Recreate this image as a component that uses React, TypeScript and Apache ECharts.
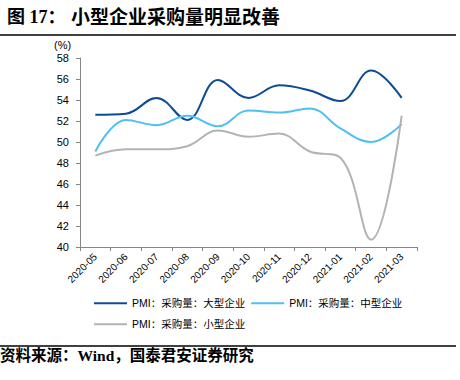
import React, { useEffect, useRef } from "react";
import * as echarts from "echarts";

const categories = ["2020-05", "2020-06", "2020-07", "2020-08", "2020-09", "2020-10", "2020-11", "2020-12", "2021-01", "2021-02", "2021-03"];
const largeValues = [52.6, 52.7, 54.2, 52.1, 55.9, 54.2, 55.4, 54.9, 53.9, 56.8, 54.2];
const mediumValues = [49.1, 52.1, 51.6, 52.5, 51.5, 53.0, 52.8, 53.2, 51.3, 50.0, 51.7];
const smallValues = [48.7, 49.3, 49.3, 49.6, 51.1, 50.5, 50.8, 49.1, 48.5, 40.7, 52.5];
const seriesNames = ["PMI：采购量：大型企业", "PMI：采购量：中型企业", "PMI：采购量：小型企业"];
const titleLead = "图 17：";
const titleText = "小型企业采购量明显改善";
const sourceText = "资料来源：Wind，国泰君安证券研究";
const unitText = "(%)";

const colors = ["#0C4C95", "#4EC1F2", "#B3B3B3"];

export default function App() {
  const ref = useRef<HTMLDivElement>(null);
  useEffect(() => {
    if (!ref.current) return;
    const chart = echarts.init(ref.current, null, { renderer: "svg" });
    const serif = '"Liberation Serif", "Noto Sans CJK SC", serif';
    const sans = '"Liberation Sans", Arial, "Noto Sans CJK SC", sans-serif';
    const mk = (name: string, data: number[], color: string) => ({
      name,
      type: "line",
      data,
      smooth: 0.4,
      symbol: "none",
      lineStyle: { width: 2, color },
      itemStyle: { color },
    });
    chart.setOption({
      animation: false,
      backgroundColor: "#fff",
      grid: { left: 80, right: 43, top: 58, bottom: 133, containLabel: false },
      xAxis: {
        type: "category",
        data: categories,
        boundaryGap: true,
        axisLine: { lineStyle: { color: "#868686", width: 1 } },
        axisTick: { show: true, length: 4, inside: false, alignWithLabel: false, lineStyle: { color: "#868686" } },
        axisLabel: { rotate: 45, fontSize: 10, color: "#000", fontFamily: sans, margin: 8, interval: 0 },
        splitLine: { show: false },
      },
      yAxis: {
        type: "value",
        min: 40,
        max: 58,
        interval: 2,
        axisLine: { show: true, lineStyle: { color: "#868686", width: 1 } },
        axisTick: { show: true, length: 4, lineStyle: { color: "#868686" } },
        axisLabel: { fontSize: 11, color: "#000", fontFamily: sans, margin: 11 },
        splitLine: { show: false },
      },
      legend: [
        {
          data: [seriesNames[0], seriesNames[1]],
          left: 89,
          top: 293,
          orient: "horizontal",
          icon: "rect",
          itemWidth: 33,
          itemHeight: 2,
          itemGap: 6,
          textStyle: { fontSize: 10.5, color: "#000", fontFamily: sans },
        },
        {
          data: [seriesNames[2]],
          left: 89,
          top: 314,
          orient: "horizontal",
          icon: "rect",
          itemWidth: 33,
          itemHeight: 2,
          textStyle: { fontSize: 10.5, color: "#000", fontFamily: sans },
        },
      ],
      series: [
        mk(seriesNames[0], largeValues, colors[0]),
        mk(seriesNames[1], mediumValues, colors[1]),
        mk(seriesNames[2], smallValues, colors[2]),
      ],
      graphic: [
        {
          type: "text",
          left: 7,
          top: 8,
          style: { text: titleLead, font: `bold 18px ${serif}`, fill: "#000" },
        },
        {
          type: "text",
          left: 71,
          top: 8,
          style: { text: titleText, font: `bold 19px ${serif}`, fill: "#000" },
        },
        {
          type: "line",
          shape: { x1: 0, y1: 35, x2: 456, y2: 35 },
          style: { stroke: "#000", lineWidth: 1.5 },
        },
        {
          type: "text",
          left: 54,
          top: 39,
          style: { text: unitText, font: `11px ${sans}`, fill: "#000" },
        },
        {
          type: "line",
          shape: { x1: 0, y1: 346, x2: 456, y2: 346 },
          style: { stroke: "#000", lineWidth: 1.5 },
        },
        {
          type: "text",
          left: 0,
          top: 348,
          style: { text: sourceText, font: `bold 15.5px ${serif}`, fill: "#000" },
        },
      ],
    });
    return () => chart.dispose();
  }, []);
  return <div ref={ref} style={{ width: 460, height: 380, position: "absolute", left: 0, top: 0 }} />;
}
